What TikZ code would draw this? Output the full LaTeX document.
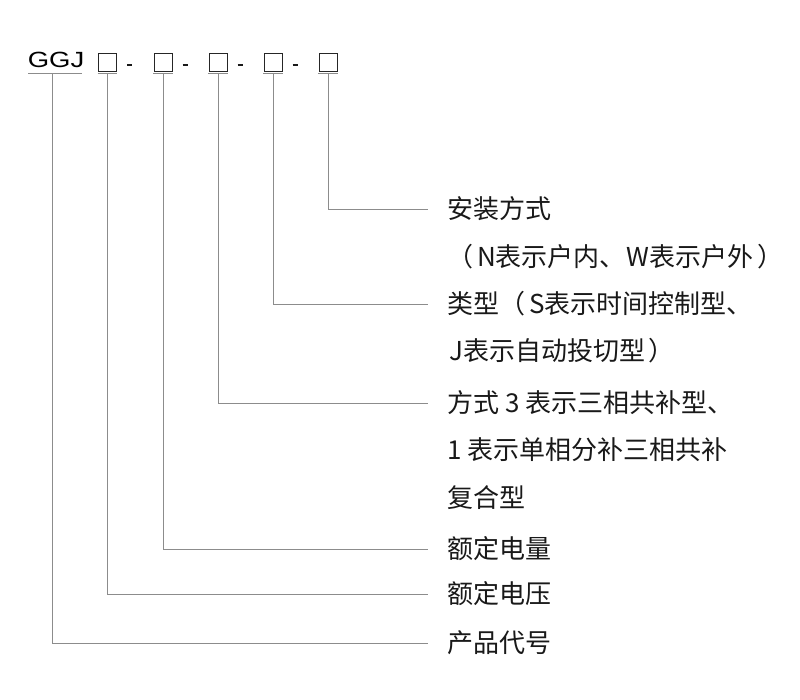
\documentclass[tikz,border=0pt]{standalone}
\usepackage{fontspec}
\setmainfont{Liberation Sans}
\newfontfamily\cjk{Noto Sans CJK SC}
\usetikzlibrary{calc}
\begin{document}
\begin{tikzpicture}[x=1pt,y=-1pt,
  conn/.style={draw=black!45, line width=0.9pt},
  uline/.style={draw=black!45, line width=1.1pt},
  lbl/.style={anchor=west, inner sep=0pt, font=\cjk\fontsize{26}{26}\selectfont, text=black!90},
  codebox/.style={draw=black!85, line width=0.9pt, minimum width=18pt, minimum height=18pt, inner sep=0pt},
  dashmark/.style={draw=black!90, line width=2pt}
]
\useasboundingbox (0,0) rectangle (800,700);
\fill[white] (0,0) rectangle (800,700);

% code line
\node[anchor=base west, inner sep=0pt, xscale=1.25, font=\fontsize{22}{22}\selectfont, text=black] (g) at (27.5,67.3) {GGJ};
\node[codebox] (b1) at (107.5,62.5) {};
\node[codebox] (b2) at (163,62.5) {};
\node[codebox] (b3) at (218,62.5) {};
\node[codebox] (b4) at (273,62.5) {};
\node[codebox] (b5) at (328,62.5) {};
\foreach \x in {129.5,185,240,295}
  \draw[dashmark] (\x-2.5,65.5) -- (\x+2.5,65.5);

% underlines
\draw[uline] (28,73.5) -- (82,73.5);
\foreach \b in {b1,b2,b3,b4,b5}
  \draw[uline] ($(\b.south west)+(-0.5,1.5)$) -- ($(\b.south east)+(0.5,1.5)$);
\coordinate (u0) at (52,73.5);
\foreach \i in {1,...,5}
  \coordinate (u\i) at ($(b\i.south)+(0,1.5)$);
\coordinate (e) at (428,0);

% labels
\node[lbl] (t1) at (447,209) {安装方式};
\node[lbl] (t2) at (447,257) {（\hspace{4pt}N表示户内、\hspace{1pt}W表示户外\hspace{4pt}）};
\node[lbl] (t3) at (447,304) {类型（\hspace{4pt}S表示时间控制型、};
\node[lbl] (t4) at (449,351) {J表示自动投切型\hspace{3pt}）};
\node[lbl] (t5) at (447,403) {方式 3 表示三相共补型、};
\node[lbl] (t6) at (447,450) {1 表示单相分补三相共补};
\node[lbl] (t7) at (447,498) {复合型};
\node[lbl] (t8) at (447,549) {额定电量};
\node[lbl] (t9) at (447,594) {额定电压};
\node[lbl] (t10) at (447,643) {产品代号};

% connectors
\draw[conn] (u5) |- (t1.west -| e);
\draw[conn] (u4) |- (t3.west -| e);
\draw[conn] (u3) |- (t5.west -| e);
\draw[conn] (u2) |- (t8.west -| e);
\draw[conn] (u1) |- (t9.west -| e);
\draw[conn] (u0) |- (t10.west -| e);
\end{tikzpicture}
\end{document}
